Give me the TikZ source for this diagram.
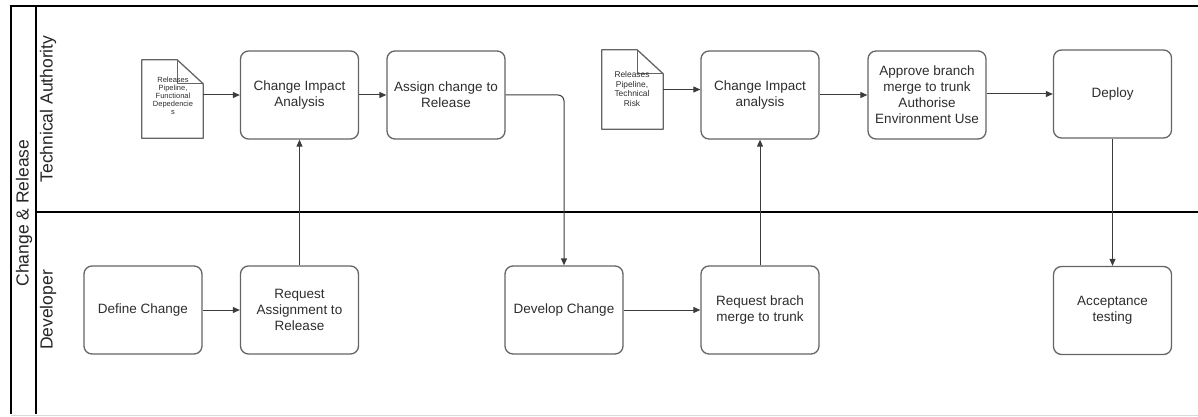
\documentclass[tikz,border=0pt]{standalone}
\usepackage{fontspec}
\setmainfont{Liberation Sans}
\usetikzlibrary{arrows.meta,calc}
\definecolor{boxline}{RGB}{100,100,100}
\definecolor{txt}{RGB}{45,45,45}
\definecolor{arrline}{RGB}{60,60,60}
\tikzset{
  x=1pt, y=-1pt,
  task/.style={draw=boxline, line width=1.3pt, rounded corners=8pt, minimum width=118pt, minimum height=88pt,
    align=center, text=txt, font=\fontsize{13.5}{16}\selectfont, inner sep=2pt},
  docbox/.style={minimum width=61pt, minimum height=78pt, inner sep=0pt},
  doctext/.style={align=center, text=txt, inner sep=0pt},
  arr/.style={draw=arrline, line width=1pt, -{Triangle[length=7pt,width=6pt]}},
  lane/.style={draw=black, line width=1.6pt},
  lanelabel/.style={rotate=90, text=black!85, font=\fontsize{17.5}{20}\selectfont, inner sep=0pt}
}
\begin{document}
\begin{tikzpicture}
\useasboundingbox (0,0) rectangle (1198,417);
% pool and lanes
\draw[draw=black!15, line width=0.8pt] (11,415) -- (1198,415);
\draw[lane] (1198,6) -- (11,6) -- (11,414);
\draw[lane] (36,6) -- (36,414);
\draw[lane] (36,212) -- (1198,212);
\node[lanelabel] (pool) at (24,213) {Change \& Release};
\node[lanelabel] (laneTA) at (48,109) {Technical Authority};
\node[lanelabel] (laneDev) at (48,310) {Developer};

% documents
\node[docbox] (doc1) at (172.5,99) {};
\draw[draw=boxline, line width=1.3pt, line join=round]
  (doc1.north west) -- ($(doc1.north east)+(-26,0)$) -- ($(doc1.north east)+(0,24)$) -- (doc1.south east) -- (doc1.south west) -- cycle;
\draw[draw=boxline, line width=1.3pt, line join=round]
  ($(doc1.north east)+(-26,0)$) -- ($(doc1.north east)+(-26,24)$) -- ($(doc1.north east)+(0,24)$);
\node[doctext, font=\fontsize{7.5}{8.1}\selectfont] (doc1t) at (173,96) {Releases\\Pipeline,\\Functional\\Depedencie\\s};

\node[docbox, minimum height=79pt] (doc2) at (632.5,89.5) {};
\draw[draw=boxline, line width=1.3pt, line join=round]
  (doc2.north west) -- ($(doc2.north east)+(-26,0)$) -- ($(doc2.north east)+(0,24)$) -- (doc2.south east) -- (doc2.south west) -- cycle;
\draw[draw=boxline, line width=1.3pt, line join=round]
  ($(doc2.north east)+(-26,0)$) -- ($(doc2.north east)+(-26,24)$) -- ($(doc2.north east)+(0,24)$);
\node[doctext, font=\fontsize{8.4}{9.7}\selectfont] (doc2t) at (632,89) {Releases\\Pipeline,\\Technical\\Risk};

% tasks
\node[task] (cia1) at (299.5,95) {Change Impact\\Analysis};
\node[task] (assign) at (446,95) {Assign change to\\Release};
\node[task] (cia2) at (760,95) {Change Impact\\analysis};
\node[task] (approve) at (927,95) {Approve branch\\merge to trunk\\Authorise\\Environment Use};
\node[task] (deploy) at (1112.5,94) {Deploy};
\node[task] (define) at (143,310) {Define Change};
\node[task] (reqassign) at (299.5,310) {Request\\Assignment to\\Release};
\node[task] (develop) at (564,310) {Develop Change};
\node[task] (reqmerge) at (760,310) {Request brach\\merge to trunk};
\node[task] (accept) at (1112.5,310.5) {Acceptance\\testing};

% connectors
\draw[arr] (doc1.east |- cia1.west) -- (cia1.west);
\draw[arr] (cia1) -- (assign);
\draw[arr, rounded corners=6pt] (assign.east) -| (develop.north);
\draw[arr] (define) -- (reqassign);
\draw[arr] (reqassign) -- (cia1);
\draw[arr] (develop) -- (reqmerge);
\draw[arr] (reqmerge) -- (cia2);
\draw[arr] (doc2.east) -- (doc2.east -| cia2.west);
\draw[arr] (cia2) -- (approve);
\draw[arr] (approve.east |- deploy.west) -- (deploy.west);
\draw[arr] (deploy) -- (accept);
\end{tikzpicture}
\end{document}
